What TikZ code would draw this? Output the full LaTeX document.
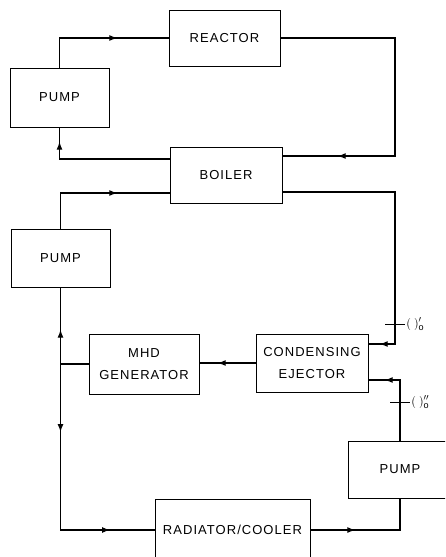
\documentclass[tikz,border=0pt]{standalone}
\usepackage{fontspec}
\setmainfont{Liberation Sans}[LetterSpace=8]
\usetikzlibrary{calc,arrows.meta,decorations.markings}
\tikzset{
  unit/.style={draw,line width=.6pt,inner sep=0pt,align=center,font=\fontsize{13}{22}\selectfont},
  pipe/.style={line width=1.1pt},
  flowtip/.style={postaction={decorate,decoration={markings,mark=at position #1 with {\arrow{Latex[length=8pt,width=6pt]}}}}},
  station/.style={right,inner sep=1pt,font=\fontsize{13}{15}\selectfont},
}

\begin{document}
\begin{tikzpicture}[x=1pt,y=-1pt]
        \clip (0,0) rectangle (445,557);
        \useasboundingbox (0,0) rectangle (445,557);
        \node[unit,minimum width=111pt,minimum height=56pt] (reactor) at (224.5,38) {REACTOR};
        \node[unit,minimum width=99pt,minimum height=59pt] (pumpA) at (59.5,97.5) {PUMP};
        \node[unit,minimum width=112pt,minimum height=56pt] (boiler) at (226,175) {BOILER};
        \node[unit,minimum width=99pt,minimum height=58pt] (pumpB) at (60.5,258) {PUMP};
        \node[unit,minimum width=110pt,minimum height=60pt] (mhd) at (144,364) {MHD\\GENERATOR};
        \node[unit,minimum width=112pt,minimum height=58pt] (ejector) at (312,363) {CONDENSING\\EJECTOR};
        \node[unit,minimum width=104pt,minimum height=57pt] (pumpC) at (400,469.5) {PUMP};
        \node[unit,minimum width=155pt,minimum height=62pt] (radiator) at (232.5,530) {RADIATOR/COOLER};
        \coordinate (rbend) at (395,0);
        \coordinate (split) at (pumpB.south |- mhd.west);
        \coordinate (tickA) at (395,324);
        \coordinate (tickB) at (400,402);
        \draw[pipe,flowtip=87.5pt] (pumpA.north) |- (reactor.west);
        \draw[pipe,flowtip=290pt] (reactor.east) -- (reactor.east -| rbend) |- ([yshift=19pt]boiler.east);
        \draw[pipe,flowtip=127.5pt] ([yshift=16pt]boiler.west) -| (pumpA.south);
        \draw[pipe,flowtip=92.5pt] (pumpB.north) |- ([yshift=-18pt]boiler.west);
        \draw[pipe,flowtip=280pt] ([yshift=-17pt]boiler.east) -- ([yshift=-17pt]boiler.east -| rbend) |- ([yshift=19pt]ejector.east);
        \draw[pipe,flowtip=38pt] (ejector.west) -- (ejector.west -| mhd.east);
        \draw[pipe,flowtip=62.5pt] (mhd.west) -- (split) -- (pumpB.south);
        \draw[pipe,flowtip=68pt,flowtip=215.5pt] (split) |- (radiator.west);
        \draw[pipe,flowtip=45pt] (radiator.east) -| (pumpC.south);
        \draw[pipe,flowtip=76pt] (pumpC.north) |- ([yshift=-17pt]ejector.east);
        \draw[line width=.5pt] ($(tickA)+(-10,0)$) -- ($(tickA)+(10,0)$) node[station] (stateA) {$(\;)'_{\mathrm{o}}$};
        \draw[line width=.5pt] ($(tickB)+(-10,0)$) -- ($(tickB)+(10,0)$) node[station] (stateB) {$(\;)''_{\mathrm{o}}$};
\end{tikzpicture}
\end{document}
